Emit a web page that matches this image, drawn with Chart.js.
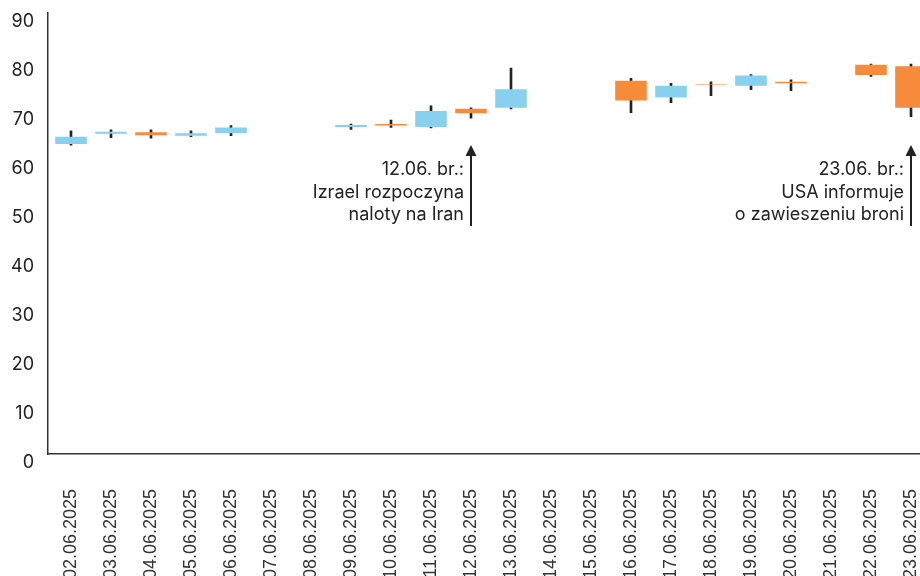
<!DOCTYPE html>
<html>
<head>
<meta charset="utf-8">
<script src="https://cdn.jsdelivr.net/npm/chart.js@4.4.1/dist/chart.umd.min.js"></script>
<style>
  html, body { margin: 0; padding: 0; background: #fff; overflow: hidden; }
  #wrap { width: 920px; height: 576px; }
</style>
</head>
<body>
<div id="wrap"><canvas id="myChart"></canvas></div>
<script>
const days = ['02.06.2025', '03.06.2025', '04.06.2025', '05.06.2025', '06.06.2025', '07.06.2025',
  '08.06.2025', '09.06.2025', '10.06.2025', '11.06.2025', '12.06.2025', '13.06.2025', '14.06.2025',
  '15.06.2025', '16.06.2025', '17.06.2025', '18.06.2025', '19.06.2025', '20.06.2025', '21.06.2025',
  '22.06.2025', '23.06.2025']

// OHLC, null = no trading
const open  = [63.2, 65.3, 65.6, 64.9, 65.4, null, null, 66.7, 67.3, 66.7, 70.4, 70.6, null, null, 76.1, 72.7, 75.45, 75.1, 75.9, null, 79.4, 79.1]
const close = [64.7, 65.7, 65.0, 65.4, 66.6, null, null, 67.1, 67.0, 69.95, 69.5, 74.4, null, null, 72.1, 75.1, 75.35, 77.2, 75.6, null, 77.3, 70.6]
const high  = [65.9, 66.1, 66.1, 65.9, 67.0, null, null, 67.3, 68.1, 71.0, 70.6, 78.7, null, null, 76.6, 75.6, 75.9, 77.4, 76.3, null, 79.5, 79.5]
const low   = [63.0, 64.5, 64.4, 64.7, 64.9, null, null, 66.2, 66.6, 66.5, 68.5, 70.4, null, null, 69.6, 71.65, 73.1, 74.3, 74.1, null, 77.0, 68.8]

const yTicks = [0, 10, 20, 30, 40, 50, 60, 70, 80, 90]

const notes = [
  { at: 10, lines: ['12.06. br.:', 'Izrael rozpoczyna', 'naloty na Iran'] },
  { at: 21, lines: ['23.06. br.:', 'USA informuje', 'o zawieszeniu broni'] }
]
const arrowFrom = 46.5
const arrowTo = 63

const BLUE = '#87d1ee'
const ORANGE = '#f68b3c'

const idx = days.map((d, i) => i).filter(i => open[i] != null)
const bodies = idx.map(i => ({ x: i, y: [open[i], close[i]] }))
const wicks = idx.map(i => ({ x: i, y: [low[i], high[i]] }))
const bodyColors = idx.map(i => close[i] >= open[i] ? BLUE : ORANGE)

const notesPlugin = {
  id: 'notes',
  afterDatasetsDraw(chart) {
    const { ctx, scales: { x, y } } = chart
    ctx.save()
    notes.forEach(n => {
      const px = x.getPixelForValue(n.at)
      const top = y.getPixelForValue(arrowTo)
      const bot = y.getPixelForValue(arrowFrom)
      ctx.strokeStyle = '#222'
      ctx.fillStyle = '#222'
      ctx.lineWidth = 2
      ctx.beginPath()
      ctx.moveTo(px, bot)
      ctx.lineTo(px, top + 8)
      ctx.stroke()
      ctx.beginPath()
      ctx.moveTo(px, top)
      ctx.lineTo(px - 5.5, top + 11)
      ctx.lineTo(px + 5.5, top + 11)
      ctx.closePath()
      ctx.fill()
      ctx.font = '18px Inter'
      ctx.textAlign = 'right'
      ctx.textBaseline = 'middle'
      n.lines.forEach((t, k) => ctx.fillText(t, px - 7, top + 25 + k * 22.5))
    })
    ctx.restore()
  }
}

const ctx = document.getElementById('myChart')

new Chart(ctx, {
  type: 'bar',
  data: {
    datasets: [{
      label: 'body',
      data: bodies,
      backgroundColor: bodyColors,
      borderWidth: 0,
      grouped: false,
      order: 0,
      categoryPercentage: 1,
      barPercentage: 0.79
    }, {
      label: 'wick',
      data: wicks,
      backgroundColor: '#222',
      borderWidth: 0,
      grouped: false,
      order: 1,
      barThickness: 2
    }]
  },
  options: {
    responsive: true,
    maintainAspectRatio: false,
    animation: false,
    layout: { padding: { left: 12, top: 12.7, right: 0, bottom: 0 } },
    plugins: { legend: { display: false }, tooltip: { enabled: false } },
    scales: {
      x: {
        type: 'linear',
        offset: false,
        min: -0.575,
        max: 21.225,
        grid: { display: false, drawTicks: false, offset: false },
        border: { color: '#333', width: 1.5 },
        afterFit: s => { s.paddingLeft = 0; s.paddingRight = 0; s.height = 122 },
        ticks: {
          stepSize: 1,
          includeBounds: false,
          autoSkip: false,
          maxRotation: 90,
          minRotation: 90,
          padding: 35,
          color: '#333',
          font: { family: 'Liberation Sans', size: 18 },
          callback: v => {
            const r = Math.round(v)
            return Math.abs(v - r) < 1e-6 ? (days[r] ?? '') : ''
          }
        }
      },
      y: {
        min: 0,
        max: 90,
        grid: { display: false, drawTicks: false },
        border: { color: '#333', width: 1.5 },
        afterBuildTicks: s => { s.ticks = yTicks.map(v => ({ value: v })) },
        afterFit: s => { s.paddingTop = 0; s.paddingBottom = 0; s.width = 36 },
        ticks: {
          padding: 14,
          labelOffset: 9,
          color: '#222',
          font: { family: 'Inter', size: 18 }
        }
      }
    }
  },
  plugins: [notesPlugin]
})
</script>
</body>
</html>
